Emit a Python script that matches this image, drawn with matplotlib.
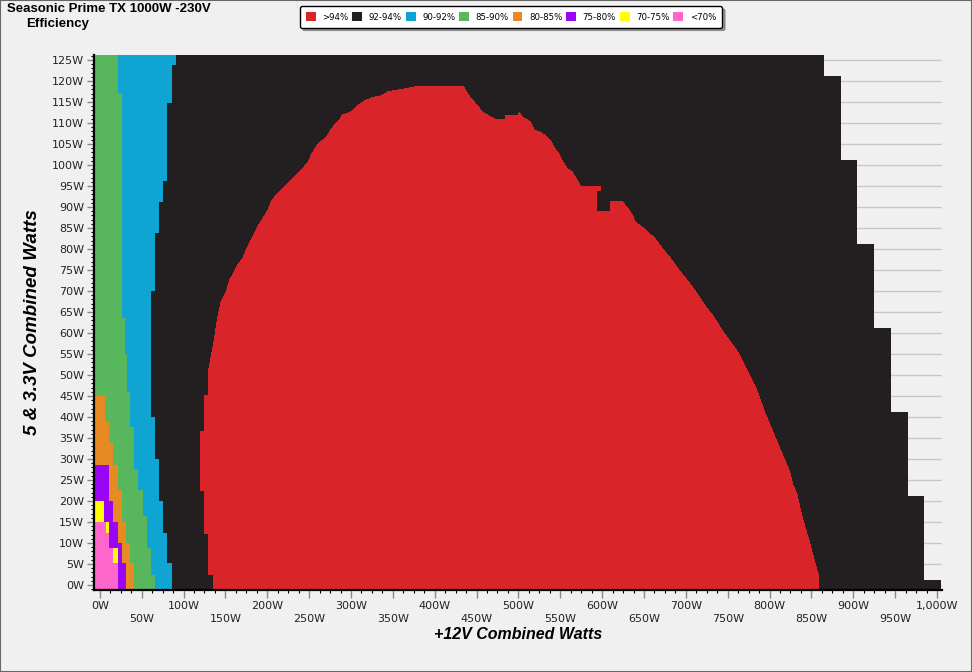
import matplotlib
matplotlib.use("Agg")
import matplotlib.pyplot as plt
from matplotlib.patches import Patch, Rectangle
from matplotlib.ticker import MultipleLocator

# ---------------- data ----------------
categories = [">94%", "92-94%", "90-92%", "85-90%", "80-85%", "75-80%", "70-75%", "<70%"]
colors = ["#d9252a", "#231f20", "#0fa4d2", "#58b75c", "#e88a22", "#9a05f5", "#ffff00", "#ff66cc"]

# outer limit of the measured area (92-94% band fills it), step edges in y (W) and x limit (W)
outer_y = [-1.2, 1.2, 21.2, 41.2, 61.2, 81.2, 101.2, 121.2, 126.2]
outer_x = [1005, 984, 965, 945, 925, 904, 885, 865]

# 90-92% band right edge
blue_y = [-1.2, 5.2, 12.3, 20.1, 30.0, 40.1, 70.0, 83.9, 91.1, 96.3, 114.7, 123.8, 126.2]
blue_x = [86.4, 80.8, 75.7, 70.9, 65.7, 60.9, 65.7, 70.5, 75.3, 80.8, 86.0, 90.8]

# 85-90% band right edge
green_y = [-1.2, 2.4, 8.7, 16.4, 22.6, 27.5, 37.6, 46.0, 55.0, 63.6, 117.1, 126.2]
green_x = [65.7, 60.9, 55.8, 51.8, 45.8, 40.6, 35.8, 32.5, 29.9, 25.9, 21.1]

# 80-85% band right edge
orange_y = [-1.2, 5.2, 9.9, 15.1, 22.6, 28.6, 33.7, 38.9, 45.0]
orange_x = [40.6, 35.8, 31.1, 25.9, 21.1, 15.1, 10.8, 6.0]

# 75-80% band right edge
purple_y = [-1.2, 5.2, 9.9, 15.1, 20.1, 28.6]
purple_x = [31.1, 25.9, 21.1, 15.1, 10.8]

# 70-75% band right edge
yellow_y = [5.2, 8.7, 12.3, 15.1, 20.1]
yellow_x = [21.1, 10.8, 10.8, 5.2]

# <70% band right edge
pink_y = [-1.2, 5.2, 8.7, 12.3, 15.1]
pink_x = [21.1, 15.1, 10.8, 7.2]

# >94% region outline (x in W, y in W)
red_x = [136.2, 136.2, 130.2, 130.2, 125.4, 125.4, 120.7, 120.7, 125.4, 125.4, 130.2,
         130, 136, 141, 145, 151, 155, 161, 165, 171, 175, 179, 185, 191, 195, 201, 205,
         211, 221, 229, 241, 249, 254, 260, 271, 277, 286, 290, 301, 309, 317, 326, 335,
         345, 361, 381, 434,
         440, 450, 458, 472, 484, 484, 500, 501, 504, 514, 519, 528, 534, 539, 543, 548,
         553, 558, 564, 570, 574, 598, 598, 593, 593, 610, 610, 623, 629, 636, 639, 649,
         663, 673, 683, 693, 703, 713, 723, 733, 743, 753, 763, 773, 783, 789, 793, 798,
         803, 808, 812, 818, 823, 828, 833, 837, 842, 848, 853, 858, 858]
red_y = [-1.2, 2.4, 2.4, 12.3, 12.3, 22.6, 22.6, 36.5, 36.5, 45.0, 45.0,
         51.2, 57.5, 63.9, 67.5, 69.8, 72.6, 74.6, 76.2, 77.8, 79.8, 81.4, 83.7, 86.1, 87.3,
         89.3, 91.3, 92.9, 94.8, 96.4, 98.8, 100.8, 102.9, 104.8, 106.7, 108.7, 110.7, 111.9,
         112.7, 114.3, 115.3, 116.1, 116.4, 117.5, 118.0, 118.8, 118.8,
         116.7, 114.3, 112.4, 110.9, 110.9, 111.7, 111.7, 112.5, 111.5, 110.3, 108.3, 107.6,
         106.6, 105.5, 104.0, 102.8, 100.8, 99.2, 98.4, 96.4, 95.0, 95.0, 93.9, 93.9, 88.9,
         88.9, 91.4, 91.4, 90.1, 88.1, 86.5, 85.0, 82.5, 79.8, 77.4, 74.6, 72.2, 69.5, 66.4,
         63.9, 60.7, 57.9, 55.2, 51.2, 47.2, 44.0, 41.7, 39.3, 36.9, 34.5, 32.5, 29.8, 27.5,
         23.8, 21.4, 17.6, 13.9, 9.9, 6.1, 2.6, -1.2]

y_ticks = list(range(0, 126, 5))
x_ticks = list(range(0, 1001, 50))

# ---------------- layout ----------------
W, H = 972, 672
BG = "#f0f0f0"
X_LEFT = -7
fig = plt.figure(figsize=(W / 100, H / 100), dpi=100, facecolor=BG)
ax = fig.add_axes([94 / W, 1 - 590 / H, (942 - 94) / W, (590 - 55) / H])
ax.set_facecolor(BG)
ax.set_xlim(X_LEFT, 1006)
ax.set_ylim(-1.2, 126.2)
ax.set_axisbelow(True)


def step_band(y_edges, x_edges, color):
    ax.fill_betweenx(y_edges, X_LEFT, list(x_edges) + [x_edges[-1]], step="post",
                     color=color, linewidth=0, antialiased=False)


step_band(outer_y, outer_x, colors[1])
ax.fill(red_x, red_y, color=colors[0], linewidth=0, antialiased=False)
step_band(blue_y, blue_x, colors[2])
step_band(green_y, green_x, colors[3])
step_band(orange_y, orange_x, colors[4])
step_band(purple_y, purple_x, colors[5])
step_band(yellow_y, yellow_x, colors[6])
step_band(pink_y, pink_x, colors[7])

# grid
ax.yaxis.grid(True, color="#c8c8c8", linewidth=1)
ax.xaxis.grid(False)

# ticks
ax.set_yticks(y_ticks)
ax.set_yticklabels([f"{v}W" for v in y_ticks])
ax.yaxis.set_minor_locator(MultipleLocator(1))
ax.set_xticks(x_ticks)
ax.set_xticklabels([f"{v:,}W" if v % 100 == 0 else f"\n{v:,}W" for v in x_ticks])
ax.xaxis.set_minor_locator(MultipleLocator(12.5))
ax.tick_params(axis="both", which="major", length=5, width=1, color="#888888",
               labelsize=8, labelcolor="#222222", pad=2)
ax.tick_params(axis="both", which="minor", length=2.5, width=0.8, color="#000000")
ax.tick_params(axis="x", which="major", length=6, pad=2)
for lab in ax.get_xticklabels():
    lab.set_linespacing(1.4)

for s in ["top", "right"]:
    ax.spines[s].set_visible(False)
for s in ["left", "bottom"]:
    ax.spines[s].set_linewidth(1.6)
    ax.spines[s].set_color("#000000")

ax.set_xlabel("+12V Combined Watts", labelpad=2, fontsize=11.5, fontweight="bold",
              style="italic", family="Liberation Sans")
ax.set_ylabel("5 & 3.3V Combined Watts", labelpad=8, fontsize=13.5, fontweight="bold",
              style="italic", family="Liberation Sans")

# titles
fig.text(7 / W, 1 - 9.5 / H, "Seasonic Prime TX 1000W -230V", fontsize=9.5,
         fontweight="bold", family="Liberation Sans", va="center", ha="left")
fig.text(26 / W, 1 - 24 / H, "Efficiency", fontsize=9.5,
         fontweight="bold", family="Liberation Sans", va="center", ha="left")

# legend
handles = [Patch(facecolor=c, edgecolor="none") for c in colors]
leg = fig.legend(handles, categories, loc="center", bbox_to_anchor=(511 / W, 1 - 17 / H),
                 ncol=8, fontsize=6.2, frameon=True, fancybox=True, shadow=True,
                 handlelength=1.15, handleheight=1.15, handletextpad=0.75, columnspacing=0.45,
                 borderpad=0.7)
leg.get_frame().set_edgecolor("#000000")
leg.get_frame().set_facecolor("#ffffff")
leg.get_frame().set_linewidth(1.0)

# figure border
fig.patches.append(Rectangle((0, 0), 1, 1, transform=fig.transFigure, fill=False,
                             edgecolor="#666666", linewidth=1.5))

fig.savefig("out.png", dpi=100, facecolor=BG)
